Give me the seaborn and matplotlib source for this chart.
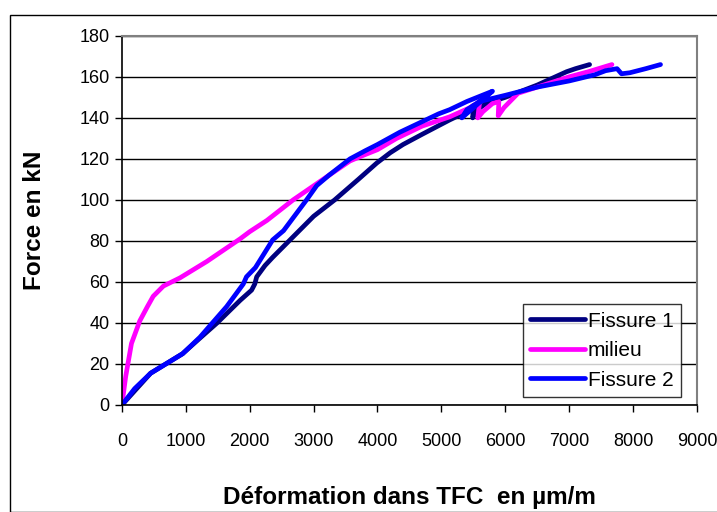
import matplotlib
matplotlib.use("Agg")
import matplotlib.pyplot as plt
from matplotlib.patches import Rectangle
import seaborn as sns
import pandas as pd

# strain (µm/m) and force (kN)
fissure1_x = [0, 450, 950, 1200, 1490, 1850, 2030, 2080, 2110, 2240, 2360, 2680, 3000,
              3330, 3700, 3990, 4200, 4400, 4700, 5130, 5400, 5500, 5490, 5560, 5700,
              6000, 6500, 6960, 7100, 7320]
fissure1_y = [0, 15.5, 25, 32, 40, 51, 56, 59, 62.5, 68, 72, 82, 92,
              100, 110, 118, 123, 127, 132, 139, 143, 146, 140, 144, 147,
              150, 156, 162.5, 164, 166]

milieu_x = [0, 60, 150, 280, 400, 490, 650, 910, 1330, 1850, 2000, 2270, 2680, 3100,
            3570, 3800, 4000, 4300, 4700, 5130, 5450, 5600, 5570, 5650, 5800, 5900,
            5890, 5980, 6200, 6600, 7000, 7300, 7670]
milieu_y = [0, 14, 30, 41, 48, 53, 58, 62, 70, 81, 84.5, 90, 100, 109,
            119, 122, 124.5, 130, 136, 140.5, 145, 148, 140, 143, 147, 148,
            141, 145, 152, 156, 160, 162.5, 166]

fissure2_x = [0, 200, 450, 950, 1220, 1640, 1900, 1950, 2090, 2360, 2530, 2890, 3050,
              3240, 3570, 3810, 4000, 4350, 4960, 5130, 5400, 5600, 5800, 5320, 5400,
              5600, 6000, 6500, 7000, 7400, 7570, 7750, 7820, 7950, 8200, 8430]
fissure2_y = [0, 8, 15.5, 25, 33, 48, 59, 62.5, 67, 80.5, 85, 100, 107,
              112, 120, 124, 127, 133, 142, 144, 148, 150.5, 153, 140, 144,
              148, 151, 155, 158, 161, 163, 164, 161.5, 162, 164, 166]

series = [("Fissure 1", fissure1_x, fissure1_y),
          ("milieu", milieu_x, milieu_y),
          ("Fissure 2", fissure2_x, fissure2_y)]
rows = []
for name, xs, ys in series:
    for i, (x, y) in enumerate(zip(xs, ys)):
        rows.append({"serie": name, "ordre": i, "x": x, "y": y})
df = pd.DataFrame(rows)

palette = {"Fissure 1": "#000080", "milieu": "#FF00FF", "Fissure 2": "#0000FF"}

sns.set_style("white")
plt.rcParams["font.family"] = ["Liberation Sans", "DejaVu Sans"]
plt.rcParams["text.color"] = "black"
plt.rcParams["axes.labelcolor"] = "black"
plt.rcParams["xtick.color"] = "black"
plt.rcParams["ytick.color"] = "black"

fig = plt.figure(figsize=(7.17, 5.12), dpi=100)
ax = fig.add_axes([0.170, 0.209, 0.802, 0.721])

sns.lineplot(data=df, x="x", y="y", hue="serie", units="serie", estimator=None,
             sort=False, palette=palette, linewidth=3.4, ax=ax,
             solid_capstyle="round", solid_joinstyle="round")

ax.set_xlim(0, 9000)
ax.set_ylim(0, 180)
ax.set_xticks(range(0, 9001, 1000))
ax.set_yticks(range(0, 181, 20))
ax.tick_params(axis="both", labelsize=13, direction="out", length=5, width=1,
               color="black", left=True, bottom=True)
ax.tick_params(axis="x", pad=15)
ax.tick_params(axis="y", pad=4)
ax.yaxis.grid(True, color="black", linewidth=1)
ax.set_axisbelow(True)
for side in ["left", "bottom"]:
    ax.spines[side].set_color("black")
    ax.spines[side].set_linewidth(1.2)
for side in ["top", "right"]:
    ax.spines[side].set_color("#808080")
    ax.spines[side].set_linewidth(1.5)

ax.set_xlabel("Déformation dans TFC  en µm/m", fontsize=17.5, fontweight="bold", labelpad=26)
ax.set_ylabel("Force en kN", fontsize=17.5, fontweight="bold", labelpad=24)

leg = ax.legend(loc="lower right", fontsize=15, frameon=True, fancybox=False,
                edgecolor="black", handlelength=2.6, handletextpad=0.15,
                borderpad=0.35, labelspacing=0.5, borderaxespad=0,
                bbox_to_anchor=(0.972, 0.022))
leg.get_frame().set_linewidth(1)
for line in leg.get_lines():
    line.set_linewidth(3.4)

fig.patches.append(Rectangle((10 / 717, 0), 1.0, 1 - 15 / 512, transform=fig.transFigure,
                             fill=False, edgecolor="black", linewidth=1))

fig.savefig("out.png", dpi=100)
